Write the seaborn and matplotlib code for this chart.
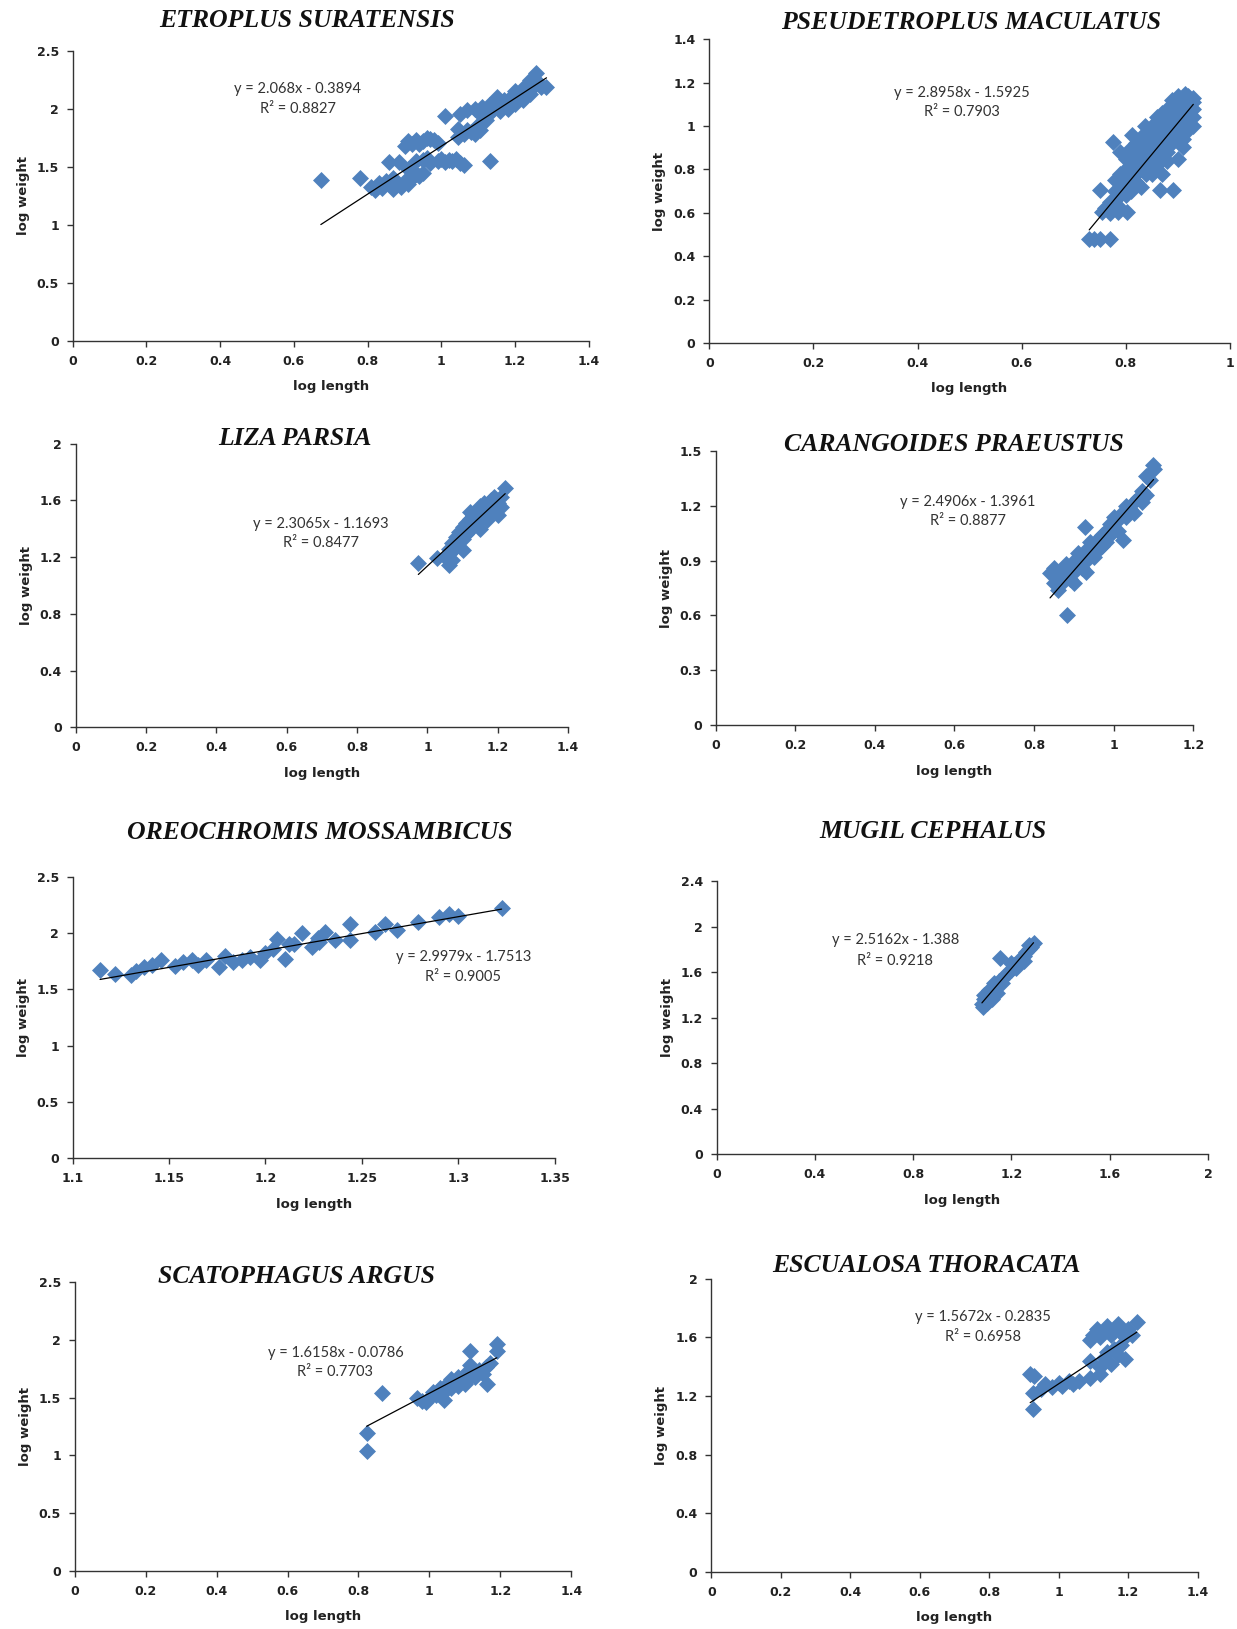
import matplotlib
matplotlib.use("Agg")
import matplotlib.pyplot as plt
import numpy as np
import seaborn as sns

# ---- data (log length, log weight) ----
titles = ["ETROPLUS SURATENSIS", "PSEUDETROPLUS MACULATUS", "LIZA PARSIA",
          "CARANGOIDES PRAEUSTUS", "OREOCHROMIS MOSSAMBICUS", "MUGIL CEPHALUS",
          "SCATOPHAGUS ARGUS", "ESCUALOSA THORACATA"]

slopes = [2.068, 2.8958, 2.3065, 2.4906, 2.9979, 2.5162, 1.6158, 1.5672]
intercepts = [-0.3894, -1.5925, -1.1693, -1.3961, -1.7513, -1.388, -0.0786, -0.2835]
eq_text = ["y = 2.068x - 0.3894", "y = 2.8958x - 1.5925", "y = 2.3065x - 1.1693",
           "y = 2.4906x - 1.3961", "y = 2.9979x - 1.7513", "y = 2.5162x - 1.388",
           "y = 1.6158x - 0.0786", "y = 1.5672x - 0.2835"]
r2_text = ["R² = 0.8827", "R² = 0.7903", "R² = 0.8477", "R² = 0.8877",
           "R² = 0.9005", "R² = 0.9218", "R² = 0.7703", "R² = 0.6958"]

es_x = [0.673, 0.778, 0.858, 0.885,
        0.81, 0.82, 0.83, 0.84, 0.85, 0.86, 0.87, 0.88, 0.89, 0.90, 0.91, 0.92, 0.93, 0.94, 0.95, 0.92, 0.87, 0.91,
        0.90, 0.92, 0.93, 0.94, 0.95, 0.96, 0.97, 0.98, 0.99, 0.91,
        0.93, 0.95, 0.97, 0.99, 1.00, 1.01, 1.02, 1.03, 1.04, 1.05, 1.06, 0.96,
        1.009, 1.05, 1.046, 1.046, 1.06, 1.07, 1.08, 1.09, 1.10, 1.105, 1.132,
        1.07, 1.09, 1.10, 1.11, 1.12, 1.13, 1.14, 1.15, 1.16, 1.17, 1.18, 1.19, 1.20, 1.21, 1.22,
        1.23, 1.24, 1.25, 1.24, 1.257, 1.26, 1.27, 1.285, 1.18, 1.15, 1.13, 1.12, 1.22, 1.20]
es_y = [1.384, 1.40, 1.54, 1.54,
        1.33, 1.30, 1.36, 1.32, 1.38, 1.34, 1.31, 1.36, 1.33, 1.38, 1.35, 1.40, 1.44, 1.42, 1.45, 1.47, 1.40, 1.48,
        1.68, 1.70, 1.73, 1.70, 1.72, 1.75, 1.74, 1.73, 1.71, 1.72,
        1.55, 1.56, 1.53, 1.55, 1.57, 1.54, 1.56, 1.55, 1.57, 1.53, 1.52, 1.58,
        1.94, 1.96, 1.76, 1.83, 1.78, 1.82, 1.80, 1.78, 1.86, 1.82, 1.55,
        1.99, 2.00, 1.97, 2.02, 1.99, 2.03, 2.00, 2.05, 1.98, 2.08, 2.06, 2.10, 2.04, 2.12, 2.08,
        2.15, 2.13, 2.20, 2.25, 2.31, 2.24, 2.19, 2.19, 2.00, 2.10, 1.96, 1.90, 2.18, 2.15]

pm_x = [0.73, 0.74, 0.75, 0.77, 0.751, 0.754, 0.786, 0.802, 0.776, 0.812, 0.838, 0.866, 0.891, 0.91, 0.93,
        0.77, 0.78, 0.78, 0.79, 0.79, 0.80, 0.80, 0.80, 0.81, 0.81, 0.81, 0.82, 0.82, 0.82, 0.83, 0.83, 0.83,
        0.84, 0.84, 0.84, 0.85, 0.85, 0.85, 0.85, 0.86, 0.86, 0.86, 0.86, 0.87, 0.87, 0.87, 0.87, 0.88, 0.88,
        0.88, 0.88, 0.89, 0.89, 0.89, 0.89, 0.90, 0.90, 0.90, 0.91, 0.91, 0.91, 0.92, 0.92, 0.92, 0.93, 0.93,
        0.90, 0.915, 0.79, 0.76, 0.83, 0.87, 0.90, 0.79,
        0.80, 0.81, 0.82, 0.83, 0.83, 0.84, 0.84, 0.85, 0.85, 0.86, 0.86, 0.86, 0.87, 0.87, 0.87, 0.88, 0.88,
        0.88, 0.89, 0.89, 0.89, 0.90, 0.90, 0.91, 0.91, 0.92, 0.92, 0.93, 0.78, 0.79, 0.81, 0.82, 0.84, 0.88,
        0.91, 0.92, 0.93, 0.80, 0.77]
pm_y = [0.48, 0.48, 0.48, 0.48, 0.705, 0.605, 0.605, 0.605, 0.928, 0.959, 1.0, 0.705, 0.705, 0.905, 1.0,
        0.65, 0.70, 0.75, 0.68, 0.78, 0.72, 0.80, 0.85, 0.75, 0.82, 0.90, 0.78, 0.85, 0.92, 0.80, 0.88, 0.95,
        0.82, 0.90, 0.96, 0.78, 0.86, 0.93, 1.00, 0.82, 0.90, 0.97, 1.04, 0.86, 0.93, 1.00, 1.06, 0.88, 0.96,
        1.02, 1.08, 0.92, 1.00, 1.06, 1.12, 0.96, 1.04, 1.10, 1.00, 1.06, 1.13, 1.04, 1.10, 1.14, 1.08, 1.13,
        1.14, 1.15, 0.62, 0.62, 0.72, 0.78, 0.85, 0.88,
        0.76, 0.86, 0.82, 0.84, 0.91, 0.86, 0.93, 0.89, 0.96, 0.86, 0.93, 1.00, 0.90, 0.97, 1.03, 0.92, 0.99,
        1.05, 0.96, 1.03, 1.09, 1.00, 1.07, 1.03, 1.09, 1.07, 1.12, 1.11, 0.66, 0.72, 0.70, 0.74, 0.78, 0.84,
        0.94, 0.98, 1.04, 0.68, 0.60]

lp_x = [0.974, 1.026, 1.06, 1.05, 1.07, 1.06, 1.07, 1.08, 1.08, 1.09, 1.09, 1.10, 1.10, 1.11, 1.11, 1.12,
        1.12, 1.13, 1.13, 1.14, 1.14, 1.15, 1.15, 1.16, 1.16, 1.17, 1.17, 1.18, 1.18, 1.19, 1.19, 1.20, 1.20,
        1.21, 1.21, 1.221, 1.12, 1.10, 1.15, 1.06]
lp_y = [1.155, 1.19, 1.143, 1.20, 1.18, 1.26, 1.30, 1.27, 1.34, 1.31, 1.38, 1.33, 1.41, 1.36, 1.44, 1.39,
        1.47, 1.42, 1.50, 1.45, 1.53, 1.48, 1.56, 1.50, 1.58, 1.46, 1.54, 1.52, 1.60, 1.55, 1.62, 1.50, 1.58,
        1.62, 1.55, 1.684, 1.52, 1.25, 1.40, 1.22]

cp_x = [0.882, 1.099, 0.84, 0.928, 1.024,
        0.85, 0.85, 0.86, 0.86, 0.87, 0.87, 0.88, 0.88, 0.89, 0.89, 0.90, 0.90, 0.91, 0.91, 0.92, 0.92, 0.93,
        0.93, 0.94, 0.94, 0.95, 0.95, 0.96, 0.96, 0.97, 0.97, 0.98, 0.98, 0.99, 0.99, 1.00, 1.00, 1.01, 1.01,
        1.02, 1.03, 1.03, 1.04, 1.05, 1.05, 1.06, 1.07, 1.07, 1.08, 1.08, 1.09, 1.10, 0.90, 0.93]
cp_y = [0.601, 1.423, 0.83, 1.085, 1.012,
        0.78, 0.86, 0.80, 0.74, 0.84, 0.78, 0.88, 0.82, 0.86, 0.80, 0.90, 0.84, 0.88, 0.94, 0.86, 0.92, 0.96,
        0.90, 0.94, 1.00, 0.92, 0.98, 1.02, 0.96, 1.04, 0.98, 1.06, 1.00, 1.10, 1.04, 1.08, 1.14, 1.12, 1.06,
        1.16, 1.14, 1.20, 1.18, 1.22, 1.16, 1.24, 1.22, 1.28, 1.26, 1.36, 1.34, 1.40, 0.78, 0.84]

om_x = [1.1142, 1.1219, 1.130, 1.133, 1.137, 1.146, 1.153, 1.157, 1.162, 1.169, 1.176, 1.179, 1.183,
        1.192, 1.197, 1.200, 1.204, 1.210, 1.206, 1.212, 1.215, 1.219, 1.224, 1.227, 1.231, 1.236, 1.244,
        1.244, 1.257, 1.262, 1.268, 1.279, 1.290, 1.295, 1.300, 1.3225, 1.141, 1.188, 1.228, 1.165]
om_y = [1.67, 1.64, 1.63, 1.66, 1.70, 1.76, 1.71, 1.74, 1.76, 1.76, 1.70, 1.80, 1.74,
        1.79, 1.76, 1.82, 1.86, 1.77, 1.95, 1.90, 1.90, 2.00, 1.88, 1.96, 2.01, 1.94, 1.94,
        2.08, 2.01, 2.08, 2.03, 2.10, 2.14, 2.17, 2.15, 2.22, 1.72, 1.76, 1.92, 1.72]

mc_x = [1.154, 1.29, 1.086, 1.08, 1.09, 1.10, 1.10, 1.11, 1.11, 1.12, 1.13, 1.13, 1.14, 1.15, 1.16, 1.16,
        1.17, 1.18, 1.19, 1.20, 1.21, 1.22, 1.23, 1.24, 1.25, 1.26, 1.27, 1.28, 1.09, 1.12, 1.14, 1.20, 1.25, 1.27]
mc_y = [1.72, 1.856, 1.293, 1.32, 1.36, 1.33, 1.40, 1.38, 1.44, 1.42, 1.46, 1.50, 1.48, 1.52, 1.54, 1.50,
        1.56, 1.58, 1.60, 1.62, 1.66, 1.64, 1.70, 1.72, 1.74, 1.78, 1.80, 1.82, 1.40, 1.36, 1.42, 1.68, 1.70, 1.84]

sa_x = [0.823, 0.823, 0.865, 0.964, 0.98, 1.00, 1.01, 1.02, 1.03, 1.04, 1.05, 1.06, 1.06, 1.07, 1.08, 1.08,
        1.09, 1.10, 1.10, 1.11, 1.12, 1.13, 1.14, 1.15, 1.16, 1.162, 1.17, 1.114, 1.114, 1.19, 1.19, 1.04, 0.99]
sa_y = [1.196, 1.034, 1.537, 1.50, 1.47, 1.50, 1.55, 1.52, 1.58, 1.55, 1.62, 1.58, 1.66, 1.62, 1.68, 1.60,
        1.65, 1.70, 1.62, 1.66, 1.72, 1.68, 1.74, 1.70, 1.76, 1.62, 1.80, 1.90, 1.78, 1.96, 1.90, 1.48, 1.46]

et_x = [0.918, 0.93, 0.927, 0.927, 1.225, 1.09, 1.09, 0.95, 0.96, 0.98, 1.00, 1.01, 1.03, 1.04, 1.06,
        1.09, 1.10, 1.11, 1.12, 1.13, 1.14, 1.15, 1.16, 1.17, 1.18, 1.19, 1.20, 1.12, 1.13, 1.14, 1.15, 1.16,
        1.17, 1.18, 1.19, 1.12, 1.21]
et_y = [1.353, 1.34, 1.114, 1.22, 1.705, 1.44, 1.32, 1.25, 1.28, 1.26, 1.29, 1.27, 1.30, 1.28, 1.30,
        1.58, 1.62, 1.66, 1.60, 1.64, 1.68, 1.62, 1.66, 1.69, 1.64, 1.60, 1.66, 1.40, 1.46, 1.50, 1.42, 1.52,
        1.48, 1.55, 1.45, 1.35, 1.62]

xs = [es_x, pm_x, lp_x, cp_x, om_x, mc_x, sa_x, et_x]
ys = [es_y, pm_y, lp_y, cp_y, om_y, mc_y, sa_y, et_y]

x_ticks = [np.arange(0, 1.41, 0.2), np.arange(0, 1.01, 0.2), np.arange(0, 1.41, 0.2), np.arange(0, 1.21, 0.2),
           np.arange(1.1, 1.351, 0.05), np.arange(0, 2.01, 0.4), np.arange(0, 1.41, 0.2), np.arange(0, 1.41, 0.2)]
y_ticks = [np.arange(0, 2.51, 0.5), np.arange(0, 1.41, 0.2), np.arange(0, 2.01, 0.4), np.arange(0, 1.51, 0.3),
           np.arange(0, 2.51, 0.5), np.arange(0, 2.41, 0.4), np.arange(0, 2.51, 0.5), np.arange(0, 2.01, 0.4)]

# ---- layout (shown-image pixel coords of the reference, 1191x1568) ----
W, H = 1191, 1568
axes_px = [(70, 567, 49, 328), (683, 1184, 38, 330), (73, 547, 427, 700), (689, 1149, 434, 698),
           (70, 534, 844, 1115), (690, 1163, 848, 1111), (72, 550, 1234, 1512), (685, 1153, 1231, 1513)]
title_px = [(296, 20), (935, 22), (284, 422), (918, 428), (308, 801), (898, 800), (285, 1229), (892, 1218)]
eq_pos = [(0.611, 2.17), (0.485, 1.151), (0.697, 1.43), (0.634, 1.22),
          (1.3026, 1.79), (0.727, 1.88), (0.735, 1.889), (0.781, 1.738)]
eq_gap = [0.17, 0.086, 0.13, 0.106, 0.18, 0.18, 0.17, 0.138]


def fmt(v):
    s = f"{v:.2f}".rstrip("0").rstrip(".")
    return s


sns.set_style("white")
plt.rcParams['font.family'] = ['DejaVu Sans']

fig = plt.figure(figsize=(12.37, 16.29), dpi=100)
blue = "#4F81BD"

for i in range(8):
    l, r, t, b = axes_px[i]
    ax = fig.add_axes([l / W, 1 - b / H, (r - l) / W, (b - t) / H])
    sns.scatterplot(x=xs[i], y=ys[i], marker="D", color=blue, s=75, linewidth=0, ax=ax)
    # trendline from the published equation over the data range
    lx = np.array([min(xs[i]), max(xs[i])])
    sns.lineplot(x=lx, y=slopes[i] * lx + intercepts[i], color="black", linewidth=0.9, ax=ax)

    ax.set_xlim(x_ticks[i][0], x_ticks[i][-1])
    ax.set_ylim(y_ticks[i][0], y_ticks[i][-1])
    ax.set_xticks(x_ticks[i])
    ax.set_yticks(y_ticks[i])
    ax.set_xticklabels([fmt(v) for v in x_ticks[i]])
    ax.set_yticklabels([fmt(v) for v in y_ticks[i]])
    for lab in ax.get_xticklabels() + ax.get_yticklabels():
        lab.set_fontweight("bold")
        lab.set_fontsize(9)
        lab.set_color("#222222")
    ax.tick_params(axis="both", direction="out", length=4, width=1, color="#333333", pad=6)
    ax.tick_params(axis="both", which="both", bottom=True, left=True)
    sns.despine(ax=ax)
    for sp in ["left", "bottom"]:
        ax.spines[sp].set_color("#333333")
        ax.spines[sp].set_linewidth(1)

    ax.set_xlabel("log length", fontsize=9.5, fontweight="bold", color="#222222", labelpad=9)
    ax.set_ylabel("log weight", fontsize=9.5, fontweight="bold", color="#222222", labelpad=5)

    ex, ey = eq_pos[i]
    ax.text(ex, ey, eq_text[i], ha="center", va="center", fontsize=10.5, family="Lato", color="#333333")
    ax.text(ex, ey - eq_gap[i], r2_text[i], ha="center", va="center", fontsize=10.5, family="Lato",
            color="#333333")

    tx, ty = title_px[i]
    fig.text(tx / W, 1 - ty / H, titles[i], ha="center", va="center", fontsize=18.5,
             family="Liberation Serif", fontweight="bold", fontstyle="italic", color="#111111")

fig.savefig("out.png", dpi=100, facecolor="white")
